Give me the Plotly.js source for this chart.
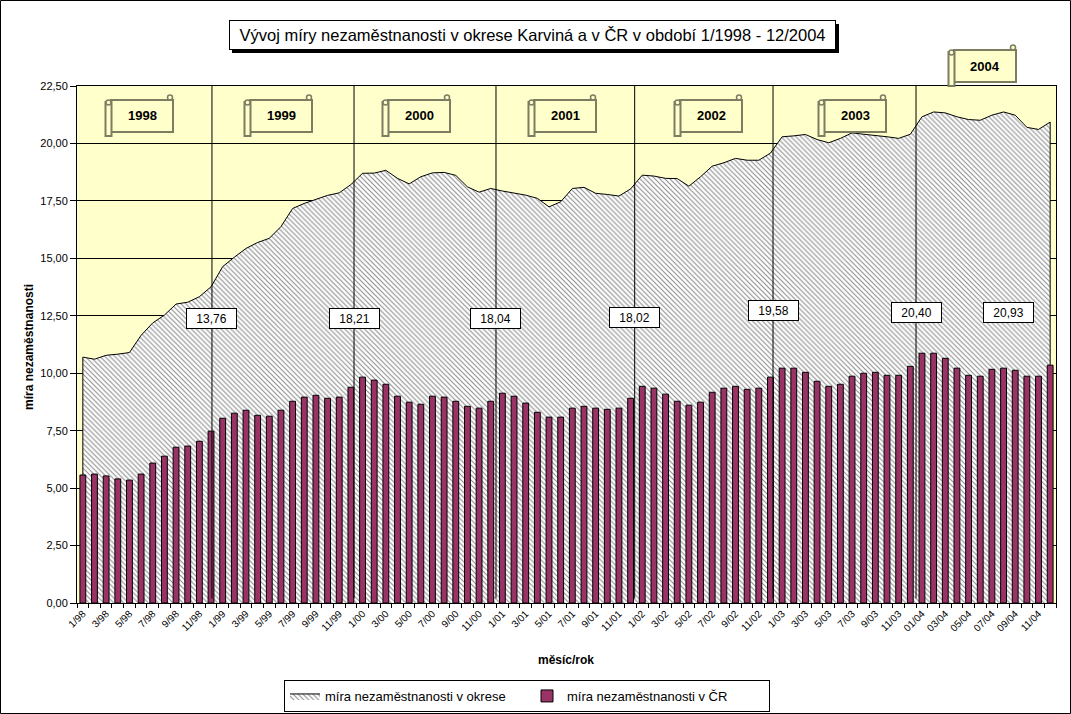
<!DOCTYPE html>
<html>
<head>
<meta charset="utf-8">
<script src="https://cdn.plot.ly/plotly-3.0.1.min.js"></script>
<style>html,body{margin:0;padding:0;background:#fff;}#chart{width:1071px;height:714px;}</style>
</head>
<body>
<div id="chart"></div>
<script>
// ---- data ----
const months = [];
const years = ['1998','1999','2000','2001','2002','2003','2004'];
years.forEach(function(y){
  const yy = y.slice(2);
  for (let m = 1; m <= 12; m++) {
    months.push(y === '2004' ? (m < 10 ? '0' + m : '' + m) + '/' + yy : m + '/' + yy);
  }
});
const okres1998 = [10.70,10.61,10.78,10.83,10.90,11.65,12.19,12.53,13.01,13.09,13.33,13.76];
const okres1999 = [14.64,15.05,15.43,15.69,15.87,16.38,17.17,17.39,17.58,17.74,17.85,18.21];
const okres2000 = [18.70,18.71,18.83,18.48,18.24,18.55,18.72,18.74,18.61,18.11,17.88,18.04];
const okres2001 = [17.93,17.83,17.75,17.61,17.24,17.46,18.04,18.09,17.83,17.78,17.71,18.02];
const okres2002 = [18.62,18.58,18.48,18.47,18.14,18.55,19.01,19.16,19.35,19.27,19.27,19.58];
const okres2003 = [20.29,20.33,20.39,20.17,20.03,20.22,20.46,20.40,20.36,20.29,20.22,20.40];
const okres2004 = [21.16,21.37,21.33,21.16,21.04,21.01,21.23,21.37,21.23,20.70,20.61,20.93];
const cr1998 = [5.57,5.61,5.53,5.40,5.35,5.61,6.09,6.39,6.78,6.83,7.04,7.48];
const cr1999 = [8.04,8.26,8.39,8.17,8.13,8.39,8.78,8.96,9.04,8.91,8.96,9.39];
const cr2000 = [9.83,9.70,9.52,9.00,8.74,8.65,9.00,8.96,8.78,8.56,8.48,8.78];
const cr2001 = [9.13,9.00,8.70,8.30,8.09,8.09,8.48,8.56,8.48,8.43,8.48,8.91];
const cr2002 = [9.43,9.35,9.09,8.78,8.61,8.74,9.17,9.35,9.43,9.30,9.35,9.83];
const cr2003 = [10.22,10.22,10.04,9.65,9.43,9.52,9.87,10.00,10.04,9.91,9.91,10.30];
const cr2004 = [10.87,10.87,10.65,10.22,9.91,9.87,10.17,10.22,10.13,9.87,9.87,10.35];
const okres = [].concat(okres1998,okres1999,okres2000,okres2001,okres2002,okres2003,okres2004);
const cr = [].concat(cr1998,cr1999,cr2000,cr2001,cr2002,cr2003,cr2004);
const seriesNames = ['míra nezaměstnanosti v okrese','míra nezaměstnanosti v ČR'];
const titleText = 'Vývoj míry nezaměstnanosti v okrese Karviná a v ČR v období 1/1998 - 12/2004';

// ---- geometry helpers (pixel -> paper) ----
const L = 77, R = 1056, T = 86, B = 603;
function px(x){ return (x - L) / (R - L); }
function py(y){ return (B - y) / (B - T); }
const FONT = 'Arial, "Liberation Sans", sans-serif';
const fmt = function(v){ return v.toFixed(2).replace('.', ','); };

// ---- traces ----
const areaX = [months[0]].concat(months, [months[months.length-1]]);
const areaY = [0].concat(okres, [0]);
const traces = [
  {
    type: 'scatter', mode: 'lines', name: seriesNames[0],
    x: areaX, y: areaY, fill: 'toself',
    fillcolor: '#ffffff',
    fillpattern: {shape: '\\', fgcolor: '#8c8c8c', bgcolor: '#ffffff', size: 3.5, solidity: 0.3},
    line: {color: '#000000', width: 1},
    xaxis: 'x', yaxis: 'y', hoverinfo: 'skip'
  },
  {
    type: 'bar', name: seriesNames[1], x: months, y: cr,
    marker: {color: '#993366', line: {color: '#000000', width: 1}},
    xaxis: 'x2', yaxis: 'y2', hoverinfo: 'skip'
  }
];

// ---- shapes / annotations ----
const shapes = [];
const annotations = [];

// outer border of the chart
shapes.push({type:'rect', xref:'paper', yref:'paper', x0:px(0.5), x1:px(1070.5), y0:py(713.5), y1:py(0.5), line:{color:'#000', width:1}, layer:'above'});
// title shadow + box
shapes.push({type:'rect', xref:'paper', yref:'paper', x0:px(232), x1:px(839), y0:py(53), y1:py(24), fillcolor:'#000', line:{width:0}, layer:'above'});
annotations.push({xref:'paper', yref:'paper', x:px(532), y:py(35), text:titleText, showarrow:false,
  font:{family:FONT, size:16.5, color:'#000'}, bgcolor:'#fff', bordercolor:'#000', borderwidth:1, borderpad:2, width:601, height:24, xanchor:'center', yanchor:'middle'});

// December lines with value labels
const decOffsets = [0.08, 0.27, 0.45, 0.35, 0.22, 0.49];
const labelPy = [318, 318, 318, 317, 310, 312];
for (let k = 0; k < 6; k++) {
  const idx = 11 + 12*k;
  const xl = idx + decOffsets[k];
  shapes.push({type:'line', xref:'x', yref:'y', x0:xl, x1:xl, y0:0.2, y1:22.5, line:{color:'#000', width:1}, layer:'above'});
  annotations.push({xref:'x', yref:'paper', x:xl, y:py(labelPy[k]), text:fmt(okres[idx]), showarrow:false,
    font:{family:FONT, size:12, color:'#000'}, bgcolor:'#fff', bordercolor:'#000', borderwidth:1, borderpad:1, width:47, height:17});
}
annotations.push({xref:'paper', yref:'paper', x:px(1034), y:py(312), text:fmt(okres[83]), showarrow:false,
  font:{family:FONT, size:12, color:'#000'}, bgcolor:'#fff', bordercolor:'#000', borderwidth:1, borderpad:1, width:47, height:17});

// year scrolls
const scrollPos = [[140,116],[279,116],[417,116],[563,116],[709,116],[853,116],[983,66]];
const scrollLine = '#7d7d62';
for (let k = 0; k < years.length; k++) {
  const cx = scrollPos[k][0], cy = scrollPos[k][1];
  shapes.push({type:'rect', xref:'paper', yref:'paper', x0:px(cx-29), x1:px(cx+33), y0:py(cy+16), y1:py(cy-16), fillcolor:'#ffffcc', line:{color:scrollLine, width:2}, layer:'above'});
  shapes.push({type:'rect', xref:'paper', yref:'paper', x0:px(cx-34.5), x1:px(cx-28.5), y0:py(cy+20), y1:py(cy-14), fillcolor:'#ffffcc', line:{color:scrollLine, width:2}, layer:'above'});
  shapes.push({type:'circle', xref:'paper', yref:'paper', x0:px(cx-34), x1:px(cx-29), y0:py(cy-11), y1:py(cy-16), fillcolor:'#ffffcc', line:{color:scrollLine, width:1.5}, layer:'above'});
  shapes.push({type:'circle', xref:'paper', yref:'paper', x0:px(cx+27.5), x1:px(cx+32.5), y0:py(cy-16), y1:py(cy-21), fillcolor:'#ffffcc', line:{color:scrollLine, width:1.5}, layer:'above'});
  annotations.push({xref:'paper', yref:'paper', x:px(cx+2), y:py(cy), text:'<b>'+years[k]+'</b>', showarrow:false,
    font:{family:FONT, size:13, color:'#000'}, xanchor:'center', yanchor:'middle'});
}

// axis titles
annotations.push({xref:'paper', yref:'paper', x:px(29), y:py(347), text:'<b>míra nezaměstnanosti</b>', textangle:-90, showarrow:false,
  font:{family:FONT, size:12, color:'#000'}, xanchor:'center', yanchor:'middle'});
annotations.push({xref:'paper', yref:'paper', x:px(566), y:py(660), text:'<b>měsíc/rok</b>', showarrow:false,
  font:{family:FONT, size:12, color:'#000'}, xanchor:'center', yanchor:'middle'});

const tickText = months.map(function(m, i){ return i % 2 === 0 ? m : ''; });

const layout = {
  width: 1071, height: 714,
  margin: {l: L, r: 1071 - R, t: T, b: 714 - B, autoexpand: false},
  paper_bgcolor: '#ffffff', plot_bgcolor: '#ffffcc',
  separators: ', ',
  font: {family: FONT, color: '#000'},
  bargap: 0.5,
  showlegend: true,
  legend: {orientation: 'h', x: px(527), xanchor: 'center', y: py(680), yanchor: 'top',
    bordercolor: '#000', borderwidth: 1, bgcolor: '#fff', font: {family: FONT, size: 13, color:'#000'},
    itemwidth: 30, entrywidth: 197, traceorder: 'normal'},
  xaxis: {type: 'category', categoryorder: 'array', categoryarray: months, range: [-0.5, 83.5],
    tickmode: 'array', tickvals: months, ticktext: tickText, tickson: 'boundaries',
    ticks: 'outside', ticklen: 4, tickcolor: '#000', tickwidth: 1, tickangle: -45,
    tickfont: {family: FONT, size: 10, color: '#000'}, automargin: false,
    showline: true, linecolor: '#000', linewidth: 1, mirror: true, showgrid: false, zeroline: false, fixedrange: true},
  yaxis: {range: [0, 22.5], dtick: 2.5, tick0: 0, tickformat: '.2f', ticks: 'outside', ticklen: 6, tickcolor: '#000',
    ticklabelstandoff: 0, automargin: false,
    tickfont: {family: FONT, size: 11, color: '#000'}, showgrid: true, gridcolor: '#000', gridwidth: 1,
    showline: true, linecolor: '#000', linewidth: 1, mirror: true, zeroline: false, fixedrange: true},
  xaxis2: {type: 'category', categoryorder: 'array', categoryarray: months, range: [-0.5, 83.5],
    overlaying: 'x', anchor: 'y2', visible: false, fixedrange: true},
  yaxis2: {range: [0, 22.5], overlaying: 'y', anchor: 'x2', visible: false, fixedrange: true},
  shapes: shapes,
  annotations: annotations
};

Plotly.newPlot('chart', traces, layout, {staticPlot: true, displayModeBar: false});
</script>
</body>
</html>
